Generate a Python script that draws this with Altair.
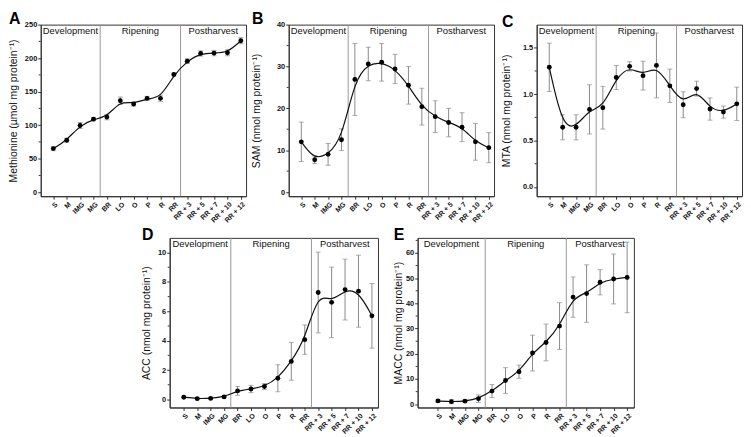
import json
import altair as alt
import pandas as pd

stages = ["S", "M", "IMG", "MG", "BR", "LO", "O", "P", "R", "RR",
          "RR + 3", "RR + 5", "RR + 7", "RR + 10", "RR + 12"]
phases = ["Development", "Ripening", "Postharvest"]
phase_bounds = [3.5, 9.5]

met_mean = [65, 77.5, 99.5, 109, 112, 136.5, 131.5, 140, 140, 175.5, 195.5, 207, 207.5, 208, 226]
met_err = [3, 3, 4.5, 2.5, 4, 5.5, 3, 3, 4.5, 2, 3.5, 4, 4, 4.5, 4.5]

sam_mean = [12.0, 7.7, 9.0, 12.5, 26.9, 30.6, 31.0, 29.4, 25.5, 20.4, 18.0, 16.6, 15.5, 12.0, 10.6]
sam_err = [4.7, 0.9, 2.6, 2.6, 8.6, 4.0, 4.5, 3.5, 4.5, 4.4, 3.8, 3.4, 3.45, 4.4, 3.6]

mta_mean = [1.29, 0.643, 0.643, 0.836, 0.854, 1.18, 1.30, 1.20, 1.31, 1.09, 0.886, 1.06, 0.84, 0.807, 0.896]
mta_err = [0.26, 0.135, 0.135, 0.265, 0.23, 0.13, 0.05, 0.155, 0.35, 0.18, 0.14, 0.08, 0.12, 0.065, 0.18]

acc_mean = [0.15, 0.05, 0.07, 0.17, 0.58, 0.71, 0.88, 1.44, 2.59, 4.07, 7.28, 6.61, 7.48, 7.37, 5.69]
acc_err = [0.05, 0.04, 0.04, 0.06, 0.3, 0.25, 0.2, 0.92, 1.28, 1.0, 2.75, 2.4, 2.07, 2.45, 2.2]

macc_mean = [1.3, 1.0, 1.2, 2.2, 5.2, 9.4, 12.9, 20.3, 24.5, 31.0, 42.5, 43.9, 48.4, 49.7, 50.3]
macc_err = [0.5, 0.8, 0.5, 1.5, 2.6, 5.1, 2.6, 7.1, 7.3, 9.3, 8.0, 11.4, 5.0, 9.9, 14.0]

FONT = "Arial, Liberation Sans, sans-serif"
DARK = "#333333"
GRAY = "#8a8a8a"


def make_panel(letter, ytitle, mean, err, ydom, yticks, yminor, xdom, width, height,
               extent, fmt=None):
    idx = list(range(len(stages)))
    df = pd.DataFrame({"idx": idx, "stage": stages, "mean": mean, "err": err})
    df["lo"] = df["mean"] - df["err"]
    df["hi"] = df["mean"] + df["err"]

    xscale = alt.Scale(domain=xdom, nice=False, zero=False)
    xaxis = alt.Axis(values=idx, labelExpr=json.dumps(stages) + "[datum.value]",
                     labelAngle=-45, labelFontSize=7, labelFontWeight="bold",
                     labelPadding=1, tickSize=3, grid=False, domainColor=DARK,
                     tickColor=DARK, labelColor="#111", labelFont=FONT,
                     labelFlush=False, labelOverlap=False)

    def X(field="idx"):
        return alt.X(f"{field}:Q", scale=xscale, axis=xaxis, title=None)

    yscale = alt.Scale(domain=ydom, nice=False, zero=False)
    ykw = dict(values=yticks, labelFontSize=7.5, labelFontWeight="bold", labelPadding=1,
               tickSize=3, grid=False, domainColor=DARK, tickColor=DARK, labelColor="#111",
               labelFont=FONT, titleFont=FONT, titleFontSize=10.5, titleFontWeight="normal",
               titleColor="#111", titlePadding=2, minExtent=extent, maxExtent=extent,
               labelFlush=False, labelOverlap=False)
    if fmt:
        ykw["format"] = fmt
    yaxis = alt.Axis(**ykw)

    def Y(field):
        return alt.Y(f"{field}:Q", scale=yscale, axis=yaxis, title=ytitle)

    base = alt.Chart(df)
    bounds_df = pd.DataFrame({"idx": phase_bounds})
    edges = [xdom[0]] + phase_bounds + [xdom[1]]
    phase_df = pd.DataFrame({"idx": [(edges[i] + edges[i + 1]) / 2 for i in range(3)],
                             "phase": phases})
    minor_df = pd.DataFrame({"mean": yminor})

    vlines = alt.Chart(bounds_df).mark_rule(color="#999999", strokeWidth=1).encode(x=X())
    bars = base.mark_rule(color=GRAY, strokeWidth=1).encode(x=X(), y=Y("lo"), y2="hi:Q")
    cap_lo = base.mark_tick(color=GRAY, orient="horizontal", size=5, thickness=1).encode(x=X(), y=Y("lo"))
    cap_hi = base.mark_tick(color=GRAY, orient="horizontal", size=5, thickness=1).encode(x=X(), y=Y("hi"))
    line = base.mark_line(interpolate="basis", color="#111", strokeWidth=1.2).encode(x=X(), y=Y("mean"))
    pts = base.mark_circle(size=24, color="#000", opacity=1).encode(x=X(), y=Y("mean"))
    text = alt.Chart(phase_df).mark_text(font=FONT, fontSize=9.5, color="#111", align="center",
                                         baseline="alphabetic").encode(
        x=X(), y=alt.value(9.5), text="phase:N")
    minor = alt.Chart(minor_df).mark_rule(color=DARK, strokeWidth=1).encode(
        y=Y("mean"), x=alt.value(-2), x2=alt.value(0))

    return alt.layer(vlines, bars, cap_lo, cap_hi, line, pts, text, minor).properties(
        width=width, height=height,
        title=alt.TitleParams(letter, anchor="start", fontSize=16, fontWeight="bold",
                              font=FONT, color="#000", offset=-6))


HT = 173
HB = 171
A = make_panel("A", "Methionine (µmol mg protein⁻¹)", met_mean, met_err, [-6, 250],
               [0, 50, 100, 150, 200, 250], [25, 75, 125, 175, 225], [-0.94, 14.39], 207, HT, 20)
B = make_panel("B", "SAM (nmol mg protein⁻¹)", sam_mean, sam_err, [-1, 40],
               [0, 10, 20, 30, 40], [5, 15, 25, 35], [-0.94, 14.39], 207, HT, 25)
C = make_panel("C", "MTA (nmol mg protein⁻¹)", mta_mean, mta_err, [-0.1, 1.75],
               [0, 0.5, 1.0, 1.5], [0.25, 0.75, 1.25], [-0.94, 14.39], 207, HT, 23, fmt=".1f")
D = make_panel("D", "ACC (nmol mg protein⁻¹)", acc_mean, acc_err, [-0.55, 11],
               [0, 2, 4, 6, 8, 10], [1, 3, 5, 7, 9], [-1.05, 14.45], 210, HB, 16)
E = make_panel("E", "MACC (nmol mg protein⁻¹)", macc_mean, macc_err, [-1.3, 66],
               [0, 10, 20, 30, 40, 50, 60], [5, 15, 25, 35, 45, 55, 65], [-1.5, 14.5], 218, HB, 12)

spacer = alt.Chart(pd.DataFrame({"v": [0]})).mark_point(opacity=0).encode(
    x=alt.X("v:Q", axis=None), y=alt.Y("v:Q", axis=None)).properties(
    width=90, height=1, view=alt.ViewBackground(strokeOpacity=0))

top = alt.hconcat(A, B, C, spacing=43, bounds="flush")
bottom = alt.hconcat(spacer, D, E, spacing=40, bounds="flush")
chart = alt.vconcat(top, bottom, spacing=3).properties(padding=0).configure_view(
    stroke=DARK, strokeWidth=1)

chart.save("out.html", embed_options={"renderer": "svg", "actions": False})
